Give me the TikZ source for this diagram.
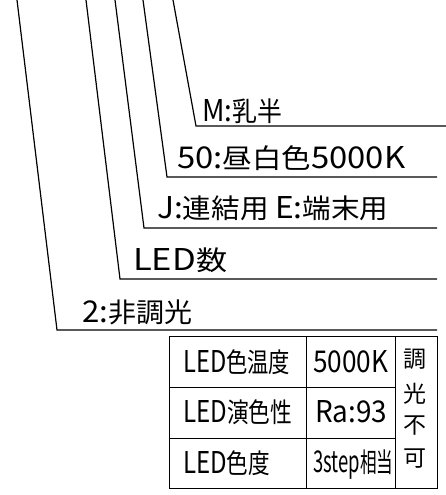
\documentclass[tikz,border=0pt]{standalone}
\usepackage{fontspec}
\setmainfont{Noto Sans CJK JP}
\usepackage{graphicx}
\newcommand\lat[1]{{\fontsize{30}{30}\selectfont #1}}
\newcommand\fitw[2]{\resizebox{#1}{\height}{#2}}
\tikzset{
  lbl/.style={anchor=base west, inner sep=0pt, font=\fontsize{27}{27}\selectfont},
  vch/.style={anchor=center, inner sep=0pt, font=\fontsize{23}{23}\selectfont},
  leader/.style={line width=1.2pt},
  grid/.style={line width=1pt}
}
\begin{document}
\begin{tikzpicture}[x=1pt,y=-1pt]
\useasboundingbox (0,0) rectangle (446,495);
% leader lines
\coordinate (t1) at (173,0); \coordinate (b1) at (196,126); \coordinate (e1) at (446,126);
\coordinate (t2) at (143,0); \coordinate (b2) at (167,177); \coordinate (e2) at (437,177);
\coordinate (t3) at (115,0); \coordinate (b3) at (144,228); \coordinate (e3) at (437,228);
\coordinate (t4) at (86,0);  \coordinate (b4) at (120,279); \coordinate (e4) at (437,279);
\coordinate (t5) at (17,0);  \coordinate (b5) at (57,330);  \coordinate (e5) at (437,330);
\draw[leader] (t1) -- (b1) -- (e1);
\draw[leader] (t2) -- (b2) -- (e2);
\draw[leader] (t3) -- (b3) -- (e3);
\draw[leader] (t4) -- (b4) -- (e4);
\draw[leader] (t5) -- (b5) -- (e5);
% labels
\node[lbl] (l1) at (202,121) {\fitw{80pt}{\lat{M:}乳半}};
\node[lbl] (l2) at (177,168) {\fitw{228pt}{\lat{50:}昼白色\lat{5000K}}};
\node[lbl] (l3) at (157,218) {\fitw{231pt}{\lat{J:}連結用 \lat{E:}端末用}};
\node[lbl] (l4) at (133,270) {\fitw{94pt}{\lat{LED}数}};
\node[lbl] (l5) at (82,322) {\fitw{110pt}{\lat{2:}非調光}};
% table
\coordinate (tl) at (169,336); \coordinate (br) at (437,488);
\coordinate (c1t) at (306,336); \coordinate (c1b) at (306,488);
\coordinate (c2t) at (395,336); \coordinate (c2b) at (395,488);
\coordinate (r1l) at (169,387); \coordinate (r1r) at (395,387);
\coordinate (r2l) at (169,438); \coordinate (r2r) at (395,438);
\draw[grid] (tl) rectangle (br);
\draw[grid] (c1t) -- (c1b);
\draw[grid] (c2t) -- (c2b);
\draw[grid] (r1l) -- (r1r);
\draw[grid] (r2l) -- (r2r);
\node[lbl] (a1) at (183,372) {\fitw{107pt}{\lat{LED}色温度}};
\node[lbl] (a2) at (183,422) {\fitw{109pt}{\lat{LED}演色性}};
\node[lbl] (a3) at (183,473) {\fitw{87pt}{\lat{LED}色度}};
\node[lbl] (b1t) at (313,372) {\fitw{75pt}{\lat{5000K}}};
\node[lbl] (b2t) at (315,422) {\fitw{72pt}{\lat{Ra:93}}};
\node[lbl] (b3t) at (313,472) {\fitw{80pt}{\lat{3step}相当}};
\node[vch] (v1) at (415,359) {調};
\node[vch] (v2) at (415,394) {光};
\node[vch] (v3) at (415,426) {不};
\node[vch] (v4) at (415,459) {可};
\end{tikzpicture}
\end{document}
